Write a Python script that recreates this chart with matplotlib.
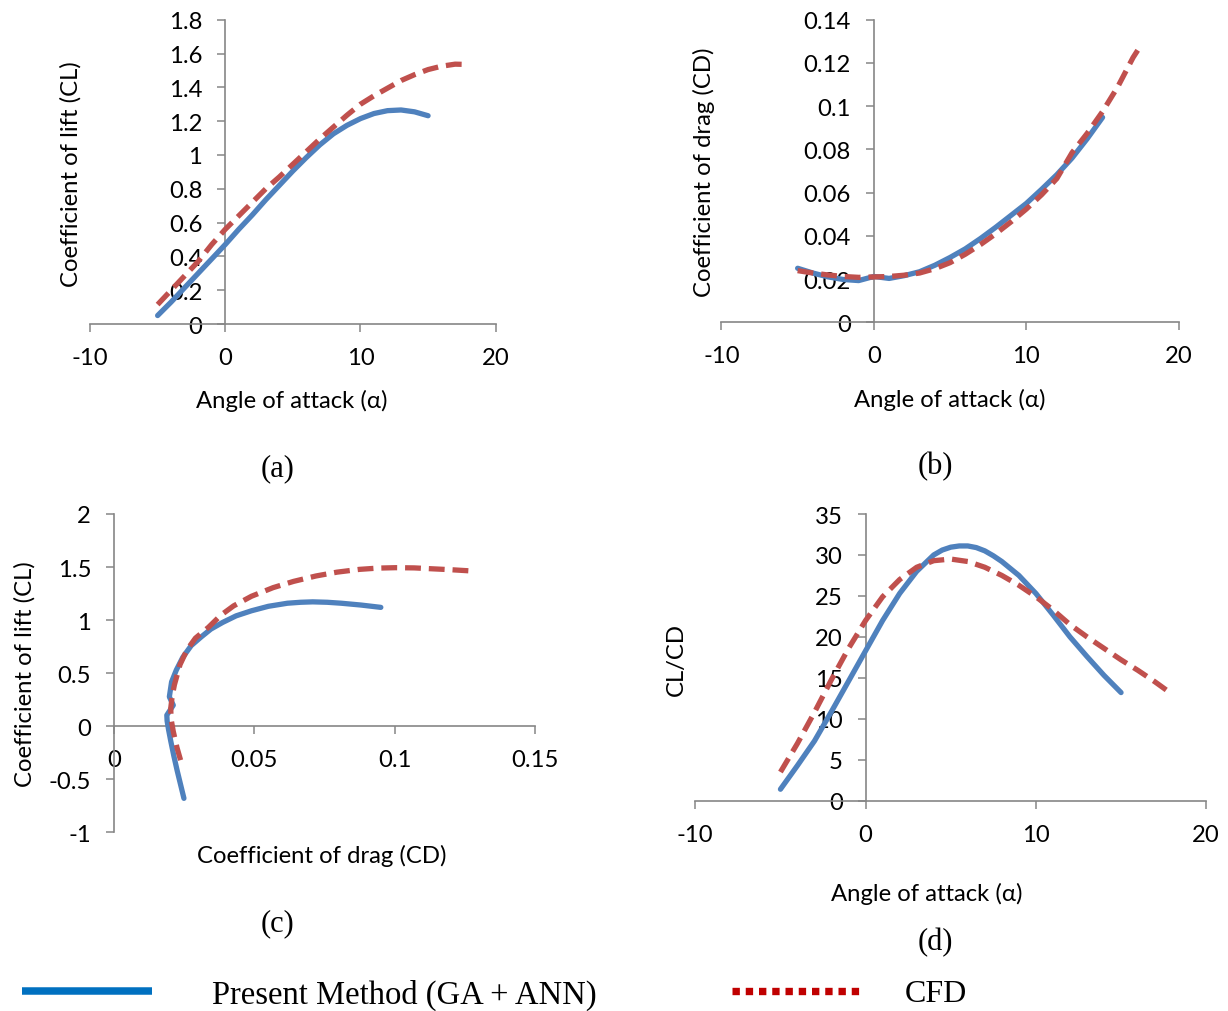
import matplotlib
matplotlib.use('Agg')
import matplotlib.pyplot as plt
from matplotlib.lines import Line2D
from matplotlib.ticker import FuncFormatter, MultipleLocator

W, H = 1228, 1012

# (a) lift coefficient vs angle of attack
alpha_a_ann = [-5, -4, -3, -2, -1, 0, 1, 2, 3, 4, 5, 6, 7, 8, 9, 10, 11, 12, 13, 14, 15]
cl_a_ann = [0.05, 0.13, 0.215, 0.30, 0.385, 0.47, 0.56, 0.645, 0.735, 0.82, 0.905,
            0.985, 1.06, 1.125, 1.175, 1.215, 1.245, 1.262, 1.266, 1.255, 1.232]
alpha_a_cfd = [-5, -4, -3, -2, -1, 0, 1, 2, 3, 4, 5, 6, 7, 8, 9, 10, 11, 12, 13, 14, 15, 16, 17, 18]
cl_a_cfd = [0.115, 0.20, 0.285, 0.37, 0.47, 0.56, 0.64, 0.72, 0.80, 0.87, 0.945, 1.02,
            1.095, 1.165, 1.235, 1.30, 1.35, 1.395, 1.44, 1.475, 1.505, 1.525, 1.537, 1.535]

# (b) drag coefficient vs angle of attack
alpha_b_ann = [-5, -4, -3, -2, -1, 0, 1, 2, 3, 4, 5, 6, 7, 8, 9, 10, 11, 12, 13, 14, 15]
cd_b_ann = [0.0250, 0.0228, 0.0210, 0.0198, 0.0193, 0.0212, 0.0203, 0.0216, 0.0234, 0.0264,
            0.0300, 0.0340, 0.0388, 0.0440, 0.0495, 0.0550, 0.0615, 0.0683, 0.0760, 0.0850, 0.0948]
alpha_b_cfd = [-5, -4, -3, -2, -1, 0, 1, 2, 3, 4, 5, 6, 7, 8, 9, 10, 11, 12, 13, 14, 15, 16, 17, 17.5]
cd_b_cfd = [0.0239, 0.0228, 0.0219, 0.0212, 0.0208, 0.0210, 0.0212, 0.0218, 0.0228, 0.0248,
            0.0276, 0.0315, 0.0360, 0.0410, 0.0465, 0.0524, 0.0590, 0.0665, 0.0785, 0.0875,
            0.0975, 0.1090, 0.1225, 0.1280]

# (c) drag polar
cd_c_ann = [0.0249, 0.0237, 0.0225, 0.0213, 0.0202, 0.0194, 0.0189, 0.0188, 0.0211, 0.0197,
            0.0205, 0.0222, 0.0245, 0.0275, 0.0310, 0.0345, 0.0387, 0.0435, 0.0490, 0.0550,
            0.0618, 0.0665, 0.0708, 0.0760, 0.0810, 0.0880, 0.0951]
cl_c_ann = [-0.68, -0.55, -0.42, -0.28, -0.14, -0.03, 0.05, 0.104, 0.198, 0.277,
            0.418, 0.53, 0.65, 0.76, 0.84, 0.915, 0.978, 1.04, 1.088, 1.13,
            1.159, 1.168, 1.172, 1.168, 1.159, 1.142, 1.12]
cd_c_cfd = [0.0237, 0.0224, 0.0211, 0.0203, 0.0202, 0.0207, 0.0215, 0.0235, 0.0260, 0.0290,
            0.0336, 0.0380, 0.0426, 0.0490, 0.0567, 0.0640, 0.0720, 0.0795, 0.0874, 0.0940,
            0.1003, 0.1070, 0.1130, 0.1200, 0.1278]
cl_c_cfd = [-0.32, -0.20, -0.05, 0.07, 0.17, 0.28, 0.39, 0.58, 0.72, 0.83,
            0.931, 1.045, 1.134, 1.225, 1.306, 1.365, 1.416, 1.452, 1.478, 1.490,
            1.494, 1.492, 1.484, 1.475, 1.4625]

# (d) lift-to-drag ratio vs angle of attack
alpha_d_ann = [-5, -4, -3, -2, -1, 0, 1, 2, 3, 4, 4.5, 5, 5.5, 6, 6.5, 7, 7.5, 8, 9, 10,
               11, 12, 13, 14, 15]
ld_d_ann = [1.4, 4.3, 7.3, 10.9, 14.6, 18.3, 22.0, 25.3, 28.0, 30.0, 30.6, 30.95, 31.1,
            31.1, 30.9, 30.5, 29.9, 29.2, 27.5, 25.3, 22.7, 20.0, 17.6, 15.3, 13.2]
alpha_d_cfd = [-5, -4, -3, -2, -1, 0, 1, 2, 3, 4, 5, 6, 7, 8, 9, 10, 11, 12, 13, 14, 15, 16, 17, 18]
ld_d_cfd = [3.5, 7.0, 10.8, 14.8, 18.6, 22.0, 24.9, 27.0, 28.5, 29.3, 29.5, 29.2, 28.5,
            27.5, 26.3, 24.9, 23.3, 21.5, 20.0, 18.6, 17.2, 15.9, 14.5, 13.0]

LABEL_ANN = 'Present Method (GA + ANN)'
LABEL_CFD = 'CFD'

BLUE = '#4F81BD'
RED = '#C0504D'
GREY = '#868686'

plt.rcParams['font.family'] = ['Lato', 'DejaVu Sans']
SERIF = ['Liberation Serif', 'DejaVu Serif']
FS = 17.2


def fmt_general(v, _pos):
    return f'{round(v, 6) + 0.0:g}'


def make_axes(fig, left, right, top, bottom):
    return fig.add_axes([left / W, 1 - bottom / H, (right - left) / W, (bottom - top) / H])


def style_axes(ax, xlim, ylim, xstep, ystep):
    ax.set_xlim(xlim)
    ax.set_ylim(ylim)
    ax.xaxis.set_major_locator(MultipleLocator(xstep))
    ax.yaxis.set_major_locator(MultipleLocator(ystep))
    ax.xaxis.set_major_formatter(FuncFormatter(fmt_general))
    ax.yaxis.set_major_formatter(FuncFormatter(fmt_general))
    for side in ('top', 'right'):
        ax.spines[side].set_visible(False)
    for side in ('left', 'bottom'):
        ax.spines[side].set_position(('data', 0))
        ax.spines[side].set_color(GREY)
        ax.spines[side].set_linewidth(1.2)
    ax.tick_params(direction='out', length=5.5, width=1.1, color=GREY,
                   pad=11, labelsize=FS, labelcolor='black')
    ax.patch.set_visible(False)


def draw_pair(ax, x1, y1, x2, y2):
    ax.plot(x1, y1, color=BLUE, lw=3.8, solid_capstyle='round',
            solid_joinstyle='round', zorder=3)
    ax.plot(x2, y2, color=RED, lw=3.8, dashes=(3, 1.5), dash_capstyle='butt', zorder=3)


def text_px(fig, x, y, s, **kw):
    fig.text(x / W, 1 - y / H, s, ha='center', va='center', **kw)


fig = plt.figure(figsize=(W / 100, H / 100), dpi=100)

ax_a = make_axes(fig, 90, 495.7, 20.7, 325)
draw_pair(ax_a, alpha_a_ann, cl_a_ann, alpha_a_cfd, cl_a_cfd)
style_axes(ax_a, (-10, 20), (0, 1.8), 10, 0.2)
text_px(fig, 292, 401, 'Angle of attack (α)', fontsize=FS)
text_px(fig, 71, 174, 'Coefficient of lift (CL)', fontsize=FS, rotation=90)
text_px(fig, 278, 469, '(a)', fontsize=22, family=SERIF)

ax_b = make_axes(fig, 721.4, 1178.8, 20.7, 323.3)
draw_pair(ax_b, alpha_b_ann, cd_b_ann, alpha_b_cfd, cd_b_cfd)
style_axes(ax_b, (-10, 20), (0, 0.14), 10, 0.02)
text_px(fig, 950, 400, 'Angle of attack (α)', fontsize=FS)
text_px(fig, 704, 172, 'Coefficient of drag (CD)', fontsize=FS, rotation=90)
text_px(fig, 935, 467, '(b)', fontsize=22, family=SERIF)

ax_c = make_axes(fig, 114.1, 534.8, 515, 833.3)
draw_pair(ax_c, cd_c_ann, cl_c_ann, cd_c_cfd, cl_c_cfd)
style_axes(ax_c, (0, 0.15), (-1, 2), 0.05, 0.5)
text_px(fig, 322, 856, 'Coefficient of drag (CD)', fontsize=FS)
text_px(fig, 25, 674, 'Coefficient of lift (CL)', fontsize=FS, rotation=90)
text_px(fig, 278, 924, '(c)', fontsize=22, family=SERIF)

ax_d = make_axes(fig, 695.3, 1206.2, 515, 801.7)
draw_pair(ax_d, alpha_d_ann, ld_d_ann, alpha_d_cfd, ld_d_cfd)
style_axes(ax_d, (-10, 20), (0, 35), 10, 5)
text_px(fig, 927, 894, 'Angle of attack (α)', fontsize=FS)
text_px(fig, 676, 659, 'CL/CD', fontsize=FS, rotation=90)
text_px(fig, 935, 943, '(d)', fontsize=22, family=SERIF)

# shared key along the bottom
fig.add_artist(Line2D([21.7 / W, 151.7 / W], [1 - 992 / H] * 2, color='#0070C0',
                      lw=5.4, solid_capstyle='butt'))
fig.add_artist(Line2D([731.7 / W, 862.3 / W], [1 - 992 / H] * 2, color='#C00000',
                      lw=5.3, dashes=(1, 0.8), dash_capstyle='butt'))
fig.text(212 / W, 1 - 995 / H, LABEL_ANN, ha='left', va='center', fontsize=23.5, family=SERIF)
fig.text(905 / W, 1 - 995 / H, LABEL_CFD, ha='left', va='center', fontsize=23, family=SERIF)

fig.savefig('out.png', dpi=100)
